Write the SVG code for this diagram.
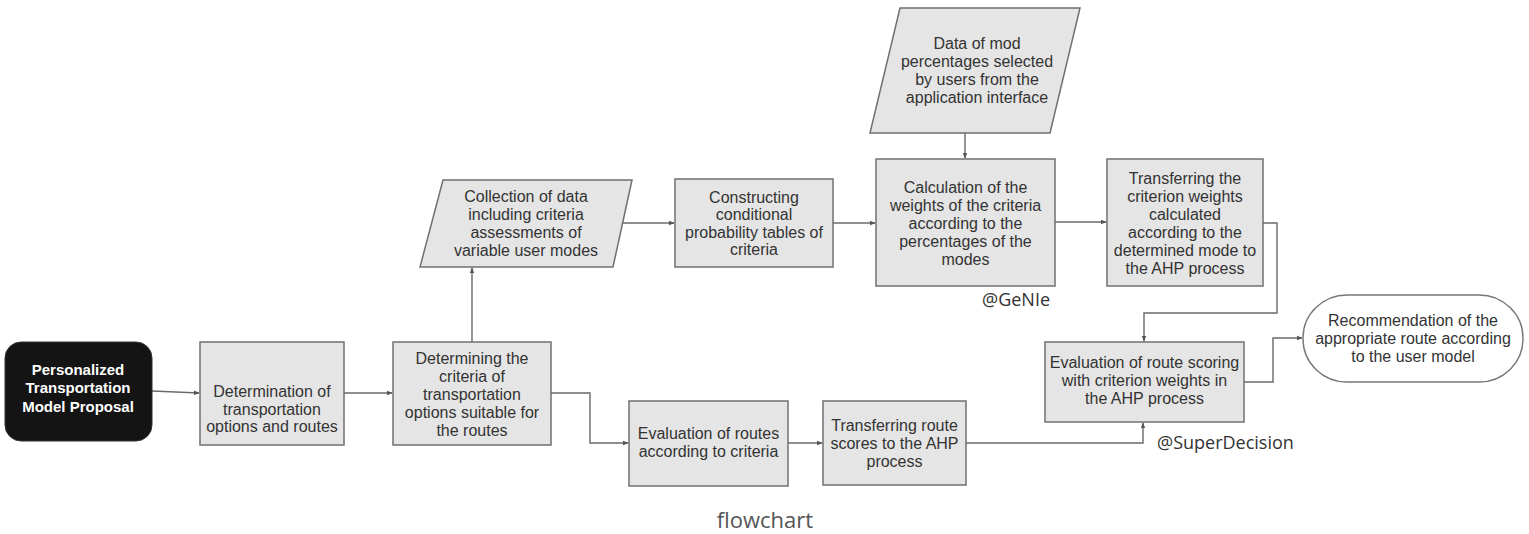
<svg xmlns="http://www.w3.org/2000/svg" width="1529" height="534" viewBox="0 0 1529 534">
<defs>
<style>
.box{fill:#e5e5e5;stroke:#707070;stroke-width:1.5}
.t{font-family:"Liberation Sans",Arial,sans-serif;font-size:16px;fill:#333;text-anchor:middle}
.tw{font-family:"Liberation Sans",Arial,sans-serif;font-size:15px;font-weight:bold;fill:#fff;text-anchor:middle}
.lbl{font-family:"Open Sans",sans-serif;font-size:18px;fill:#333}
.cap{font-family:"Open Sans",sans-serif;font-size:22px;fill:#555;text-anchor:middle}
.c{fill:none;stroke:#6a6a6a;stroke-width:1.4;marker-end:url(#ah)}
</style>
<marker id="ah" viewBox="0 0 8 8" refX="7" refY="4" markerWidth="6" markerHeight="6" orient="auto" markerUnits="userSpaceOnUse">
<path d="M0,1 L8,4 L0,7 z" fill="#555"/>
</marker>
</defs>
<rect width="1529" height="534" fill="#fff"/>
<g id="connectors">
<path class="c" d="M152,391 L199,393"/>
<path class="c" d="M344,393 L392,393"/>
<path class="c" d="M472,342 L472,268"/>
<path class="c" d="M623,223 L674,223"/>
<path class="c" d="M833,223 L875,223"/>
<path class="c" d="M965,133 L965,158"/>
<path class="c" d="M1055,222 L1106,222"/>
<path class="c" d="M1263,223 L1277,223 L1277,313 L1144,313 L1144,341"/>
<path class="c" d="M1244,382 L1273,382 L1273,338 L1302,338"/>
<path class="c" d="M551,393 L590,393 L590,443 L628,443"/>
<path class="c" d="M788,443 L822,443"/>
<path class="c" d="M966,443 L1143,443 L1143,423"/>
</g>
<g id="n1">
<rect x="5" y="342" width="147" height="99" rx="16" fill="#141414" stroke="#333" stroke-width="1"/>
<text class="tw"><tspan x="78" y="375">Personalized</tspan><tspan x="78" y="393">Transportation</tspan><tspan x="78" y="412">Model Proposal</tspan></text>
</g>
<g id="n2">
<rect class="box" x="200" y="342" width="144" height="103"/>
<text class="t"><tspan x="272" y="397">Determination of</tspan><tspan x="272" y="415">transportation</tspan><tspan x="272" y="432">options and routes</tspan></text>
</g>
<g id="n3">
<rect class="box" x="393" y="342" width="158" height="103"/>
<text class="t"><tspan x="472" y="364">Determining the</tspan><tspan x="472" y="382">criteria of</tspan><tspan x="472" y="400">transportation</tspan><tspan x="472" y="418">options suitable for</tspan><tspan x="472" y="436">the routes</tspan></text>
</g>
<g id="n4">
<polygon class="box" points="443,180 632,180 613,267 420,267"/>
<text class="t"><tspan x="526" y="202">Collection of data</tspan><tspan x="526" y="220">including criteria</tspan><tspan x="526" y="238">assessments of</tspan><tspan x="526" y="256">variable user modes</tspan></text>
</g>
<g id="n5">
<rect class="box" x="675" y="179" width="158" height="88"/>
<text class="t"><tspan x="754" y="203">Constructing</tspan><tspan x="754" y="220">conditional</tspan><tspan x="754" y="238">probability tables of</tspan><tspan x="754" y="255">criteria</tspan></text>
</g>
<g id="n6">
<rect class="box" x="876" y="159" width="179" height="127"/>
<text class="t"><tspan x="965.5" y="193">Calculation of the</tspan><tspan x="965.5" y="211">weights of the criteria</tspan><tspan x="965.5" y="229">according to the</tspan><tspan x="965.5" y="247">percentages of the</tspan><tspan x="965.5" y="265">modes</tspan></text>
</g>
<g id="n7">
<rect class="box" x="1107" y="159" width="156" height="127"/>
<text class="t"><tspan x="1185" y="184">Transferring the</tspan><tspan x="1185" y="202">criterion weights</tspan><tspan x="1185" y="220">calculated</tspan><tspan x="1185" y="238">according to the</tspan><tspan x="1185" y="256">determined mode to</tspan><tspan x="1185" y="274">the AHP process</tspan></text>
</g>
<g id="n8">
<polygon class="box" points="900,8 1080,8 1050,133 870,133"/>
<text class="t"><tspan x="977" y="49">Data of mod</tspan><tspan x="977" y="67">percentages selected</tspan><tspan x="977" y="85">by users from the</tspan><tspan x="977" y="103">application interface</tspan></text>
</g>
<g id="n9">
<rect class="box" x="1045" y="342" width="199" height="80"/>
<text class="t"><tspan x="1144.5" y="368">Evaluation of route scoring</tspan><tspan x="1144.5" y="386">with criterion weights in</tspan><tspan x="1144.5" y="404">the AHP process</tspan></text>
</g>
<g id="n10">
<rect x="1303" y="295" width="220" height="87" rx="44" ry="43" fill="#fff" stroke="#777" stroke-width="1.4"/>
<text class="t"><tspan x="1413" y="326">Recommendation of the</tspan><tspan x="1413" y="344">appropriate route according</tspan><tspan x="1413" y="362">to the user model</tspan></text>
</g>
<g id="n11">
<rect class="box" x="629" y="401" width="159" height="85"/>
<text class="t"><tspan x="708.5" y="439">Evaluation of routes</tspan><tspan x="708.5" y="457">according to criteria</tspan></text>
</g>
<g id="n12">
<rect class="box" x="823" y="401" width="143" height="84"/>
<text class="t"><tspan x="894.5" y="431">Transferring route</tspan><tspan x="894.5" y="449">scores to the AHP</tspan><tspan x="894.5" y="467">process</tspan></text>
</g>
<g id="labels">
<text class="lbl" x="982" y="306">@GeNIe</text>
<text class="lbl" x="1157" y="449">@SuperDecision</text>
<text class="cap" x="765" y="528">flowchart</text>
</g>
</svg>
